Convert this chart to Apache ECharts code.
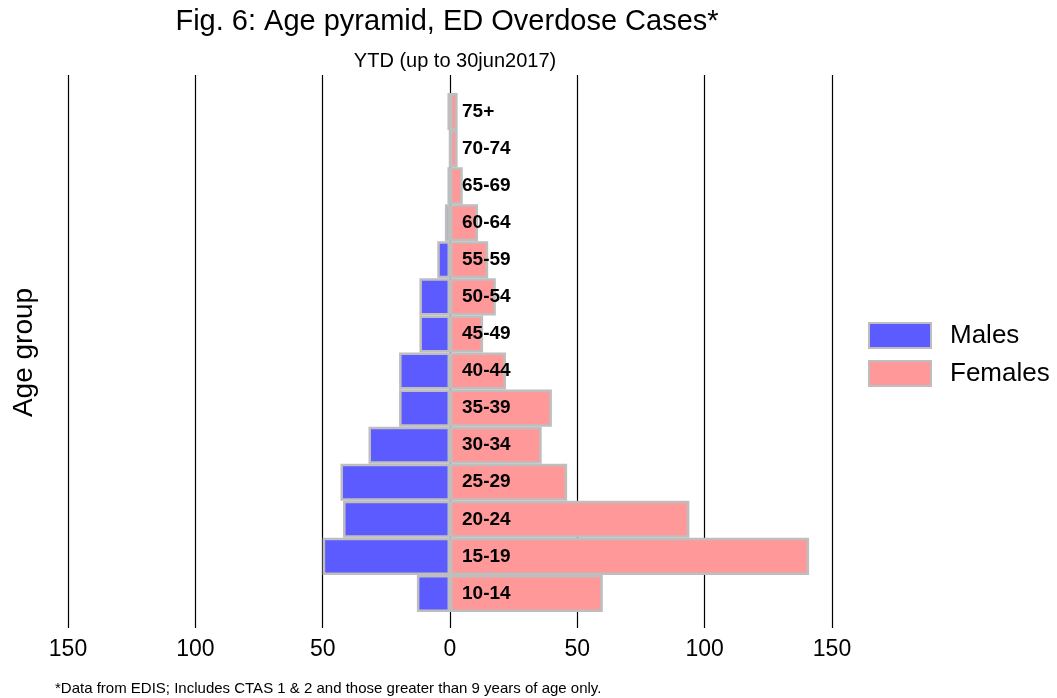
<!DOCTYPE html>
<html>
<head>
<meta charset="utf-8">
<script src="https://cdn.jsdelivr.net/npm/echarts@6/dist/echarts.min.js"></script>
<style>
  html, body { margin: 0; padding: 0; background: #fff; }
  #main { width: 1057px; height: 698px; }
</style>
</head>
<body>
<div id="main"></div>
<script>
var ageGroups = ['10-14', '15-19', '20-24', '25-29', '30-34', '35-39', '40-44',
                 '45-49', '50-54', '55-59', '60-64', '65-69', '70-74', '75+'];
var males = [13, 50, 42, 43, 32, 20, 20, 12, 12, 5, 2, 1, 0, 1];
var females = [60, 141, 94, 46, 36, 40, 22, 13, 18, 15, 11, 5, 3, 3];
var xTicks = [-150, 150, 50]; // min, max, step

var myChart = echarts.init(document.getElementById('main'));
var font = 'Liberation Sans, Arial, sans-serif';

// males drawn to the left, so negate
var malesNeg = males.map(function (v) { return -v; });

option = {
    backgroundColor: '#fff',
    animation: false,
    title: [{
        text: 'Fig. 6: Age pyramid, ED Overdose Cases*',
        left: 442, top: 2, textAlign: 'center',
        textStyle: { fontFamily: font, fontSize: 29, fontWeight: 'normal', color: '#000' }
    }, {
        text: 'YTD (up to 30jun2017)',
        left: 450, top: 46, textAlign: 'center',
        textStyle: { fontFamily: font, fontSize: 20, fontWeight: 'normal', color: '#000' }
    }, {
        text: '*Data from EDIS; Includes CTAS 1 & 2 and those greater than 9 years of age only.',
        left: 50, top: 676,
        textStyle: { fontFamily: font, fontSize: 15, fontWeight: 'normal', color: '#000' }
    }],
    legend: {
        data: ['Males', 'Females'],
        orient: 'vertical',
        left: 868, top: 322,
        padding: 0,
        icon: 'rect',
        itemWidth: 62, itemHeight: 25,
        itemGap: 11,
        textStyle: { fontFamily: font, fontSize: 26, lineHeight: 25, color: '#000', padding: [0, 0, 0, 14] }
    },
    grid: [
        { left: 68, right: 225, top: 75, bottom: 70 },   // gridlines
        { left: 68, right: 225, top: 93, bottom: 86 }    // bars
    ],
    xAxis: [{
        gridIndex: 0,
        type: 'value',
        min: xTicks[0], max: xTicks[1], interval: xTicks[2],
        axisLine: { show: false },
        axisTick: { show: false },
        axisLabel: {
            margin: 10,
            fontFamily: font, fontSize: 23, color: '#000',
            formatter: function (v) { return Math.abs(v); }
        },
        splitLine: { show: true, lineStyle: { color: '#000', width: 1.2 } }
    }, {
        gridIndex: 1,
        type: 'value',
        min: xTicks[0], max: xTicks[1],
        show: false
    }],
    yAxis: [{
        gridIndex: 0,
        type: 'value',
        show: false
    }, {
        gridIndex: 1,
        type: 'category',
        data: ageGroups,
        name: 'Age group',
        nameLocation: 'middle',
        nameRotate: 90,
        nameGap: 30,
        nameTextStyle: { fontFamily: font, fontSize: 28, color: '#000' },
        axisLine: { show: false },
        axisTick: { show: false },
        axisLabel: { show: false }
    }],
    series: [{
        name: 'Males',
        type: 'bar',
        xAxisIndex: 1, yAxisIndex: 1,
        stack: 'pyr',
        barCategoryGap: '0%',
        data: malesNeg,
        itemStyle: { color: '#5b5bff', borderColor: '#bebebe', borderWidth: 2.5 }
    }, {
        name: 'Females',
        type: 'bar',
        xAxisIndex: 1, yAxisIndex: 1,
        stack: 'pyr',
        barCategoryGap: '0%',
        data: females,
        itemStyle: { color: '#ff9999', borderColor: '#bebebe', borderWidth: 2.5 },
        label: {
            show: true,
            position: 'insideLeft',
            distance: 12,
            fontFamily: font, fontSize: 19, fontWeight: 'bold', color: '#000',
            formatter: function (p) { return p.name; }
        }
    }]
};

myChart.setOption(option);
</script>
</body>
</html>
